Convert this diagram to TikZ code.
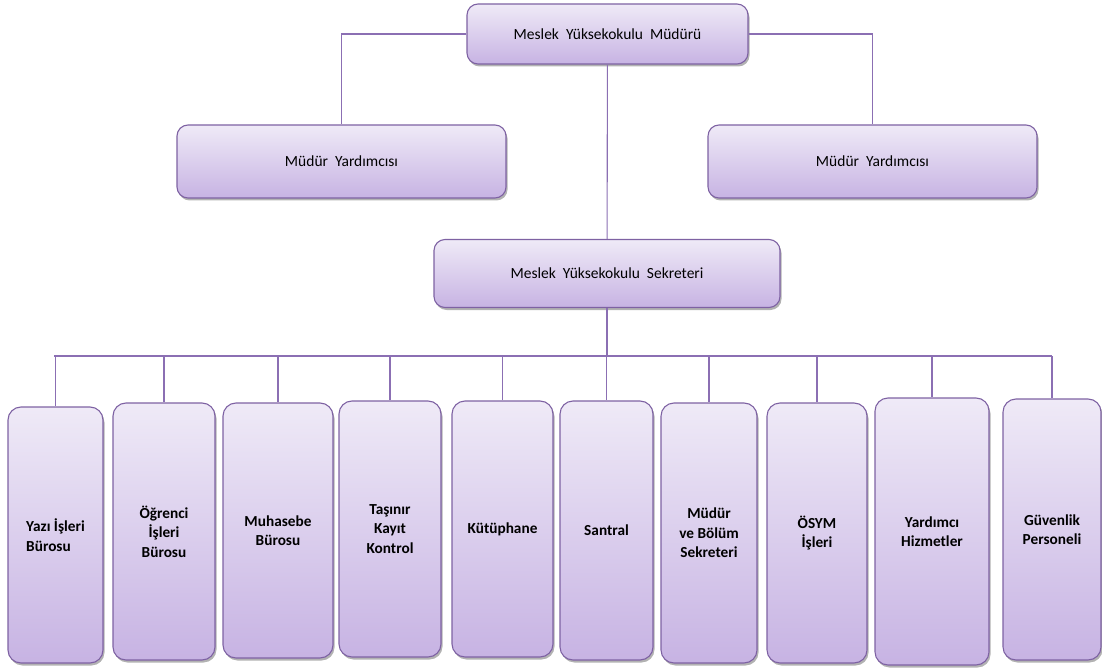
\documentclass[tikz,border=0pt]{standalone}
\usepackage{fontspec}
\setmainfont{Carlito}
\usetikzlibrary{shadows}
\definecolor{boxline}{HTML}{7E62A3}
\definecolor{boxtop}{HTML}{EFEAF7}
\definecolor{boxbot}{HTML}{C7B3E3}
\definecolor{conn}{HTML}{8B6FB3}
\begin{document}
\begin{tikzpicture}[x=1pt,y=-1pt,
  box/.style={draw=boxline, line width=1.1pt, rounded corners=11pt,
    top color=boxtop, bottom color=boxbot, inner sep=0pt,
    drop shadow={shadow xshift=1.5pt, shadow yshift=-2.5pt, fill=black, opacity=0.3},
    font=\fontsize{15.5}{18}\selectfont},
  unit/.style={box, rounded corners=13pt, align=center,
    font=\fontsize{15.3}{19.5}\selectfont\bfseries},
  link/.style={draw=conn, line width=1.1pt}]
\useasboundingbox (0,0) rectangle (1102,668);

\node[box, minimum width=281, minimum height=60] (m) at (607.5,34) {Meslek \ Yüksekokulu \ Müdürü};
\node[box, minimum width=329, minimum height=73] (y1) at (341.5,161.5) {Müdür \ Yardımcısı};
\node[box, minimum width=329, minimum height=73] (y2) at (872.5,161.5) {Müdür \ Yardımcısı};
\node[box, minimum width=346, minimum height=68] (s) at (607,273.5) {Meslek \ Yüksekokulu \ Sekreteri};

\node[unit, align=left, minimum width=95, minimum height=256] (b1) at (55.5,535) {Yazı İşleri\\Bürosu};
\node[unit, minimum width=102, minimum height=257] (b2) at (164,531.5) {Öğrenci\\İşleri\\Bürosu};
\node[unit, minimum width=110, minimum height=255] (b3) at (278,530.5) {Muhasebe\\Bürosu};
\node[unit, minimum width=102, minimum height=256] (b4) at (390,529) {Taşınır\\Kayıt\\Kontrol};
\node[unit, minimum width=101, minimum height=256] (b5) at (502.5,529) {Kütüphane};
\node[unit, minimum width=93, minimum height=259] (b6) at (606.5,530.5) {Santral};
\node[unit, minimum width=96, minimum height=260] (b7) at (709,533) {Müdür\\ve Bölüm\\Sekreteri};
\node[unit, minimum width=100, minimum height=260] (b8) at (817,533) {ÖSYM\\İşleri};
\node[unit, minimum width=114, minimum height=267] (b9) at (932,531.5) {Yardımcı\\Hizmetler};
\node[unit, minimum width=98, minimum height=261] (b10) at (1052,529.5) {Güvenlik\\Personeli};

\coordinate (barL) at (54,356);
\coordinate (barR) at (1052,356);

\path[link] (m.west) -| (y1);
\path[link] (m.east) -| (y2);
\path[link] (m) -- (s);
\path[link] (s) -- (s |- barL);
\path[link] (barL) -- (barR);

\path[link] (b1 |- barL) -- (b1);
\path[link] (b2 |- barL) -- (b2);
\path[link] (b3 |- barL) -- (b3);
\path[link] (b4 |- barL) -- (b4);
\path[link] (b5 |- barL) -- (b5);
\path[link] (b6 |- barL) -- (b6);
\path[link] (b7 |- barL) -- (b7);
\path[link] (b8 |- barL) -- (b8);
\path[link] (b9 |- barL) -- (b9);
\path[link] (b10 |- barL) -- (b10);
\end{tikzpicture}
\end{document}
